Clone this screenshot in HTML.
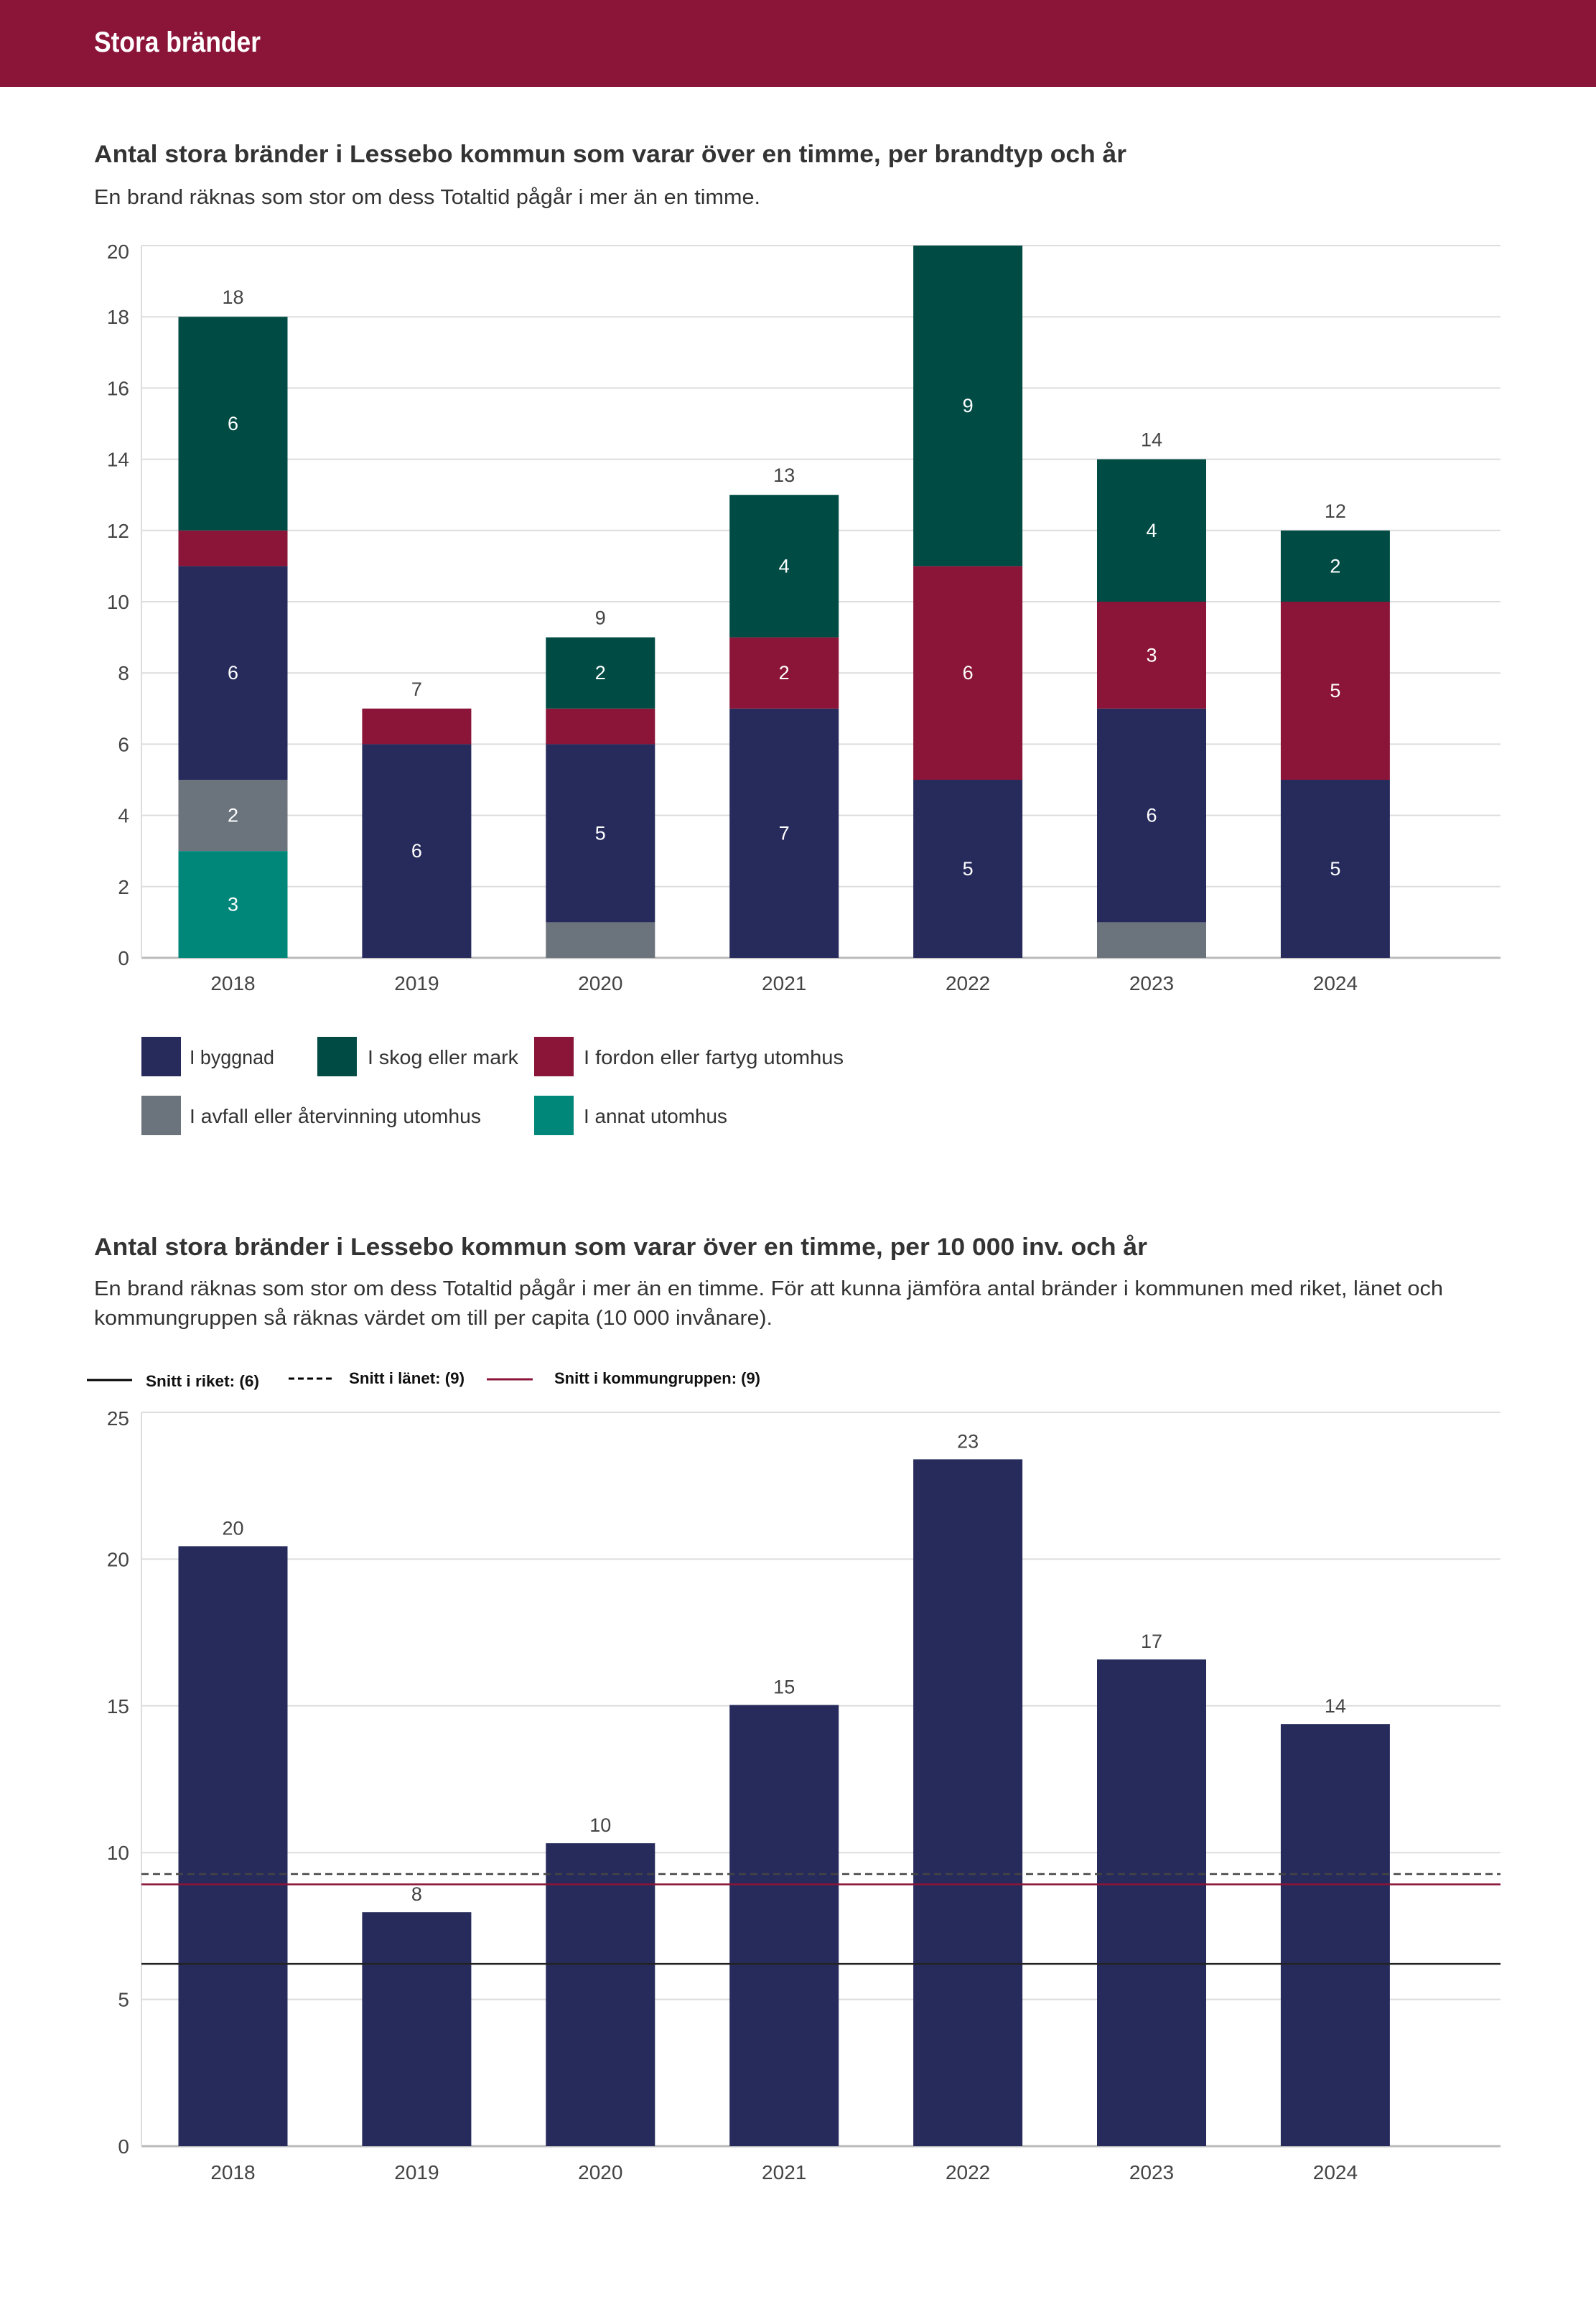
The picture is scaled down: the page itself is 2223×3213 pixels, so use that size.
<!DOCTYPE html>
<html><head><meta charset="utf-8"><style>
html,body{margin:0;padding:0;background:#fff}
svg{display:block;font-family:"Liberation Sans",sans-serif}
</style></head><body>
<svg id="s" width="2223" height="3213" viewBox="0 0 2223 3213" xmlns="http://www.w3.org/2000/svg">
<rect x="0" y="0" width="2223" height="121" fill="#8b1538"/>
<text x="131" y="72" font-size="40" font-weight="bold" fill="#fff" textLength="232" lengthAdjust="spacingAndGlyphs">Stora bränder</text>
<text x="131" y="226" font-size="34" font-weight="bold" fill="#333" textLength="1438" lengthAdjust="spacingAndGlyphs">Antal stora bränder i Lessebo kommun som varar över en timme, per brandtyp och år</text>
<text x="131" y="284" font-size="29" fill="#333" textLength="928" lengthAdjust="spacingAndGlyphs">En brand räknas som stor om dess Totaltid pågår i mer än en timme.</text>
<g id="c1"></g>
<g>
 <rect x="197" y="1444" width="55" height="55" fill="#262b5c"/>
 <text x="264" y="1482" font-size="28" fill="#333" textLength="118" lengthAdjust="spacingAndGlyphs">I byggnad</text>
 <rect x="442" y="1444" width="55" height="55" fill="#004c45"/>
 <text x="512" y="1482" font-size="28" fill="#333" textLength="210" lengthAdjust="spacingAndGlyphs">I skog eller mark</text>
 <rect x="744" y="1444" width="55" height="55" fill="#8a1538"/>
 <text x="813" y="1482" font-size="28" fill="#333" textLength="362" lengthAdjust="spacingAndGlyphs">I fordon eller fartyg utomhus</text>
 <rect x="197" y="1526" width="55" height="55" fill="#6b737c"/>
 <text x="264" y="1564" font-size="28" fill="#333" textLength="406" lengthAdjust="spacingAndGlyphs">I avfall eller återvinning utomhus</text>
 <rect x="744" y="1526" width="55" height="55" fill="#00877a"/>
 <text x="813" y="1564" font-size="28" fill="#333" textLength="200" lengthAdjust="spacingAndGlyphs">I annat utomhus</text>
</g>
<text x="131" y="1748" font-size="34" font-weight="bold" fill="#333" textLength="1467" lengthAdjust="spacingAndGlyphs">Antal stora bränder i Lessebo kommun som varar över en timme, per 10 000 inv. och år</text>
<text x="131" y="1804" font-size="29" fill="#333" textLength="1879" lengthAdjust="spacingAndGlyphs">En brand räknas som stor om dess Totaltid pågår i mer än en timme. För att kunna jämföra antal bränder i kommunen med riket, länet och</text>
<text x="131" y="1845" font-size="29" fill="#333" textLength="945" lengthAdjust="spacingAndGlyphs">kommungruppen så räknas värdet om till per capita (10 000 invånare).</text>
<g>
 <line x1="121" y1="1922" x2="184" y2="1922" stroke="#000" stroke-width="3"/>
 <text x="203" y="1931" font-size="22" font-weight="bold" fill="#111" textLength="158" lengthAdjust="spacingAndGlyphs">Snitt i riket: (6)</text>
 <line x1="402" y1="1920" x2="465" y2="1920" stroke="#000" stroke-width="3" stroke-dasharray="8,5"/>
 <text x="486" y="1927" font-size="22" font-weight="bold" fill="#111" textLength="161" lengthAdjust="spacingAndGlyphs">Snitt i länet: (9)</text>
 <line x1="678" y1="1921" x2="742" y2="1921" stroke="#8a1538" stroke-width="3"/>
 <text x="772" y="1927" font-size="22" font-weight="bold" fill="#111" textLength="287" lengthAdjust="spacingAndGlyphs">Snitt i kommungruppen: (9)</text>
</g>
<g id="c2"></g>
</svg>
<script>
const years = ["2018","2019","2020","2021","2022","2023","2024"];
const annat = [3,0,0,0,0,0,0];
const avfall = [2,0,1,0,0,1,0];
const byggnad = [6,6,5,7,5,6,5];
const fordon = [1,1,1,2,6,3,5];
const skog = [6,0,2,4,9,4,2];
const ticks1 = [0,2,4,6,8,10,12,14,16,18,20];
const perCapita = [20.44,7.97,10.32,15.03,23.4,16.58,14.38];
const perCapitaLabels = ["20","8","10","15","23","17","14"];
const ticks2 = [0,5,10,15,20,25];
const riket = 6.21;
const lanet = 9.27;
const kommungrupp = 8.92;

const NS="http://www.w3.org/2000/svg";
function mk(parent,tag,attrs,txt){const e=document.createElementNS(NS,tag);for(const k in attrs)e.setAttribute(k,attrs[k]);if(txt!==undefined)e.textContent=txt;parent.appendChild(e);return e;}
const xL=197,xR=2090,x0=324.5,step=255.9,bw=152;
function xc(i){return x0+i*step;}

// Chart 1
const c1=document.getElementById('c1');
const y1=v=>1334-v*(1334-342)/20;
ticks1.forEach(t=>{
  const g=mk(c1,'line',{x1:xL,x2:xR,y1:y1(t),y2:y1(t),stroke:t===0?'#bbb':'#ddd','stroke-width':t===0?3:2});
  
  
  const l=mk(c1,'text',{x:180,y:y1(t)+(t===20?18:10),'font-size':28,fill:'#444','text-anchor':'end'},t);
  
  
});
const ax=mk(c1,'line',{x1:xL,x2:xL,y1:342,y2:1334,stroke:'#ddd','stroke-width':2});


const series=[[annat,'#00877a','annat'],[avfall,'#6b737c','avfall'],[byggnad,'#262b5c','byggnad'],[fordon,'#8a1538','fordon'],[skog,'#004c45','skog']];
years.forEach((yr,i)=>{
  let acc=0;
  series.forEach(([arr,col,nm])=>{
    const v=arr[i]; if(!v) return;
    const r=mk(c1,'rect',{x:xc(i)-bw/2,y:y1(acc+v),width:bw,height:y1(acc)-y1(acc+v),fill:col});
    
    
    if(v>1){
      const t=mk(c1,'text',{x:xc(i),y:(y1(acc)+y1(acc+v))/2+9,'font-size':27,fill:'#fff','text-anchor':'middle'},v);
      
      
    }
    acc+=v;
  });
  if(acc<20){
    const t=mk(c1,'text',{x:xc(i),y:y1(acc)-18,'font-size':27,fill:'#444','text-anchor':'middle'},acc);
    
    
  }
  const xl=mk(c1,'text',{x:xc(i),y:1379,'font-size':28,fill:'#444','text-anchor':'middle'},yr);
  
  
});

// Chart 2
const c2=document.getElementById('c2');
const y2=v=>2989-v*(2989-1967)/25;
ticks2.forEach(t=>{
  const g=mk(c2,'line',{x1:xL,x2:xR,y1:y2(t),y2:y2(t),stroke:t===0?'#bbb':'#ddd','stroke-width':t===0?3:2});
  
  
  const l=mk(c2,'text',{x:180,y:y2(t)+(t===25?18:10),'font-size':28,fill:'#444','text-anchor':'end'},t);
  
  
});
const ax2=mk(c2,'line',{x1:xL,x2:xL,y1:1967,y2:2989,stroke:'#ddd','stroke-width':2});


years.forEach((yr,i)=>{
  const v=perCapita[i];
  const r=mk(c2,'rect',{x:xc(i)-bw/2,y:y2(v),width:bw,height:y2(0)-y2(v),fill:'#262b5c'});
  
  
  const t=mk(c2,'text',{x:xc(i),y:y2(v)-16,'font-size':27,fill:'#444','text-anchor':'middle'},perCapitaLabels[i]);
  
  
  const xl=mk(c2,'text',{x:xc(i),y:3035,'font-size':28,fill:'#444','text-anchor':'middle'},yr);
  
  
});
const lr=mk(c2,'line',{x1:xL,x2:xR,y1:y2(riket),y2:y2(riket),stroke:'#222','stroke-width':2.5});


const ll=mk(c2,'line',{x1:xL,x2:xR,y1:y2(lanet),y2:y2(lanet),stroke:'#444','stroke-width':2.5,'stroke-dasharray':'10,6'});


const lk=mk(c2,'line',{x1:xL,x2:xR,y1:y2(kommungrupp),y2:y2(kommungrupp),stroke:'#8a1538','stroke-width':2.5});


</script>
</body></html>
